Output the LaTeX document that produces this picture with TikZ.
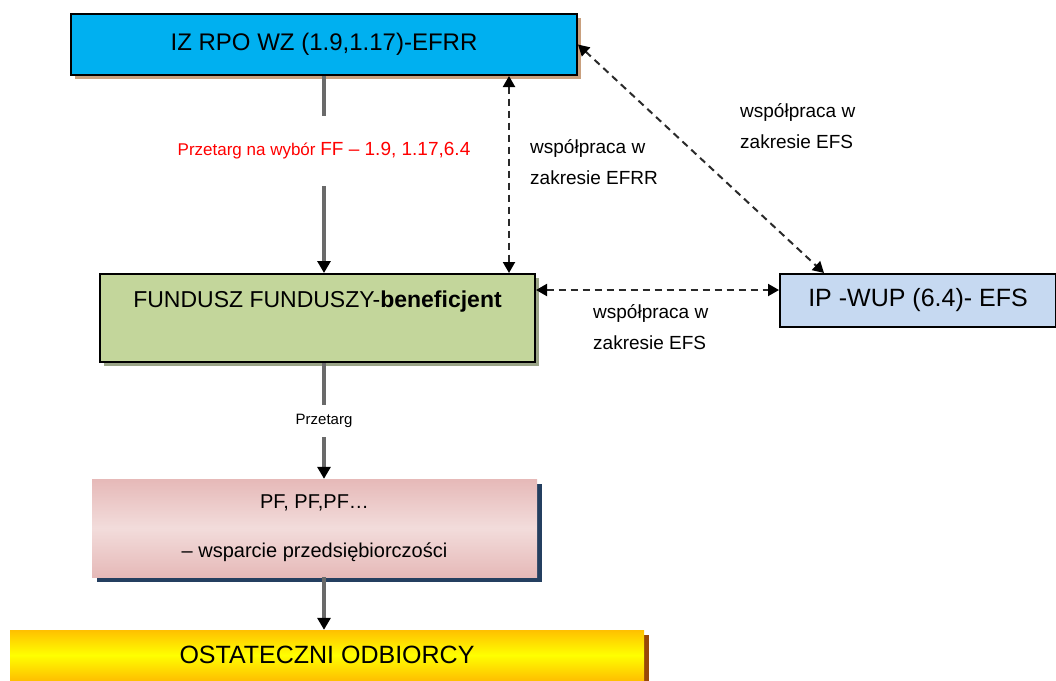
\documentclass[tikz,border=0pt]{standalone}
\usepackage{fontspec}
\setmainfont{Liberation Sans}
\usetikzlibrary{arrows.meta,shadows,calc}
\definecolor{cyanbox}{HTML}{00B0F0}
\definecolor{tanshadow}{HTML}{C9A07E}
\definecolor{olivebox}{HTML}{C3D69B}
\definecolor{oliveshadow}{HTML}{9AA487}
\definecolor{bluebox}{HTML}{C6D9F1}
\definecolor{pinkedge}{HTML}{E6B9B8}
\definecolor{pinkmid}{HTML}{F2DCDB}
\definecolor{navyshadow}{HTML}{243F60}
\definecolor{yellowedge}{HTML}{FFC000}
\definecolor{brownshadow}{HTML}{984807}
\definecolor{linegrey}{HTML}{6A6A6A}
\definecolor{dashgrey}{HTML}{2A2A2A}
\definecolor{redtext}{HTML}{FF0000}
\tikzset{
  boxbase/.style={rectangle, inner sep=0pt, align=center},
  solidarrow/.style={draw=linegrey, line width=3.5pt, -{Triangle[length=12pt,width=13pt,fill=black,color=black]}},
  dasharrow/.style={draw=dashgrey, line width=2pt, dash pattern=on 7pt off 5pt,
     {Triangle[length=11pt,width=12pt,fill=black,color=black]}-{Triangle[length=11pt,width=12pt,fill=black,color=black]}},
  coop/.style={align=left, font=\fontsize{19}{31}\selectfont, inner sep=0pt},
}
\begin{document}
\begin{tikzpicture}[x=1pt,y=-1pt]
\useasboundingbox (0,0) rectangle (1056,680);
% boxes
\node[boxbase, draw=black, line width=2pt, fill=cyanbox, minimum width=506pt, minimum height=61pt,
  general shadow={fill=tanshadow, shadow xshift=4pt, shadow yshift=-4pt},
  font=\fontsize{24}{28}\selectfont] (b1) at (324,44.5) {IZ RPO WZ (1.9,1.17)-EFRR};
\node[boxbase, draw=black, line width=2pt, fill=olivebox, minimum width=435pt,
  text height=33pt, text depth=55pt,
  general shadow={fill=oliveshadow, shadow xshift=4pt, shadow yshift=-4pt},
  font=\fontsize{23}{26}\selectfont] (b2) at (317.5,318) {FUNDUSZ FUNDUSZY-\textbf{beneficjent}};
\node[boxbase, draw=black, line width=2pt, fill=bluebox, minimum width=276pt, minimum height=53pt,
  font=\fontsize{25}{28}\selectfont] (b3) at (918,300.5) {IP -WUP (6.4)- EFS};
\node[boxbase, top color=pinkedge, bottom color=pinkedge, middle color=pinkmid,
  minimum width=445pt, minimum height=98pt,
  general shadow={fill=navyshadow, shadow xshift=5pt, shadow yshift=-5pt},
  font=\fontsize{20}{22}\selectfont] (b4) at (314.5,528) {PF, PF,PF…\\[27pt]– wsparcie przedsiębiorczości};
\node[boxbase, top color=yellowedge, bottom color=yellowedge, middle color=yellow,
  minimum width=634pt, minimum height=50pt,
  general shadow={fill=brownshadow, shadow xshift=5pt, shadow yshift=-5pt},
  font=\fontsize{25}{28}\selectfont] (b5) at (327,655) {OSTATECZNI ODBIORCY};
% solid connectors
\draw[solidarrow] (b1.south) -- (b1.south |- b2.north)
  node[pos=0.38, fill=white, inner xsep=2pt, minimum height=70pt, text=redtext]
  {{\fontsize{17}{19}\selectfont Przetarg na wybór }{\fontsize{19}{22}\selectfont FF – 1.9, 1.17,6.4}};
\draw[solidarrow] (b2.south -| b1.south) -- (b1.south |- b4.north)
  node[midway, fill=white, minimum height=32pt, font=\fontsize{15}{17}\selectfont] {Przetarg};
\draw[solidarrow] (b4.south -| b1.south) -- (b1.south |- b5.north);
% dashed connectors
\coordinate (d1) at ($(b2.north east)+(-27,0)$);
\draw[dasharrow] (d1 |- b1.south) -- (d1);
\coordinate (d2) at ($(b3.north west)+(45,0)$);
\draw[dasharrow] (b1.east) -- (d2);
\coordinate (d3) at ($(b2.north east)+(0,17)$);
\draw[dasharrow] (d3) -- (d3 -| b3.west);
% labels
\node[coop, anchor=west] (l1) at (530,162) {współpraca w\\zakresie EFRR};
\node[coop, anchor=west] (l2) at (740,126) {współpraca w\\zakresie EFS};
\node[coop, anchor=west] (l3) at (593,327) {współpraca w\\zakresie EFS};
\end{tikzpicture}
\end{document}
